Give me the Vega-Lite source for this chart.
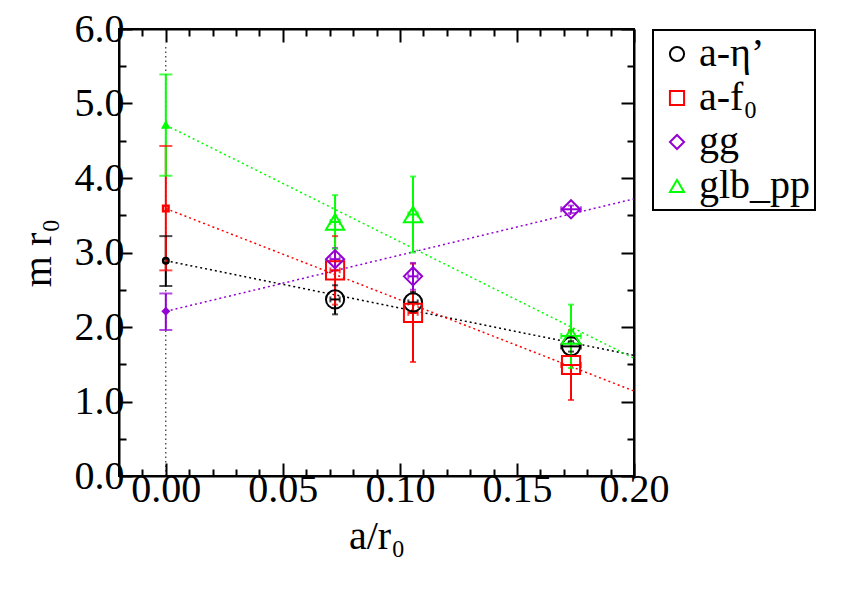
{
  "$schema": "https://vega.github.io/schema/vega-lite/v6.json",
  "width": 515,
  "height": 447,
  "autosize": {"type": "none"},
  "padding": {"left": 119, "top": 29, "right": 208, "bottom": 119},
  "background": "white",
  "config": {
    "font": "Liberation Serif",
    "view": {"stroke": "black", "strokeWidth": 2},
    "axis": {"grid": false, "domainColor": "black", "domainWidth": 2, "tickColor": "black", "tickWidth": 2, "labelColor": "black", "titleColor": "black", "labelFont": "Liberation Serif", "titleFont": "Liberation Serif", "titleFontWeight": "normal"},
    "legend": {"labelFont": "Liberation Serif", "strokeWidth": 2}
  },
  "datasets": {
    "pts": [
      {"s": "a-η’", "x": 0, "y": 2.89, "ylo": 2.55, "yhi": 3.22},
      {"s": "a-η’", "x": 0.0723, "y": 2.37, "ylo": 2.17, "yhi": 2.56, "xlo": 0.0703, "xhi": 0.0743},
      {"s": "a-η’", "x": 0.1056, "y": 2.33, "ylo": 2.19, "yhi": 2.47, "xlo": 0.1036, "xhi": 0.1076},
      {"s": "a-η’", "x": 0.1731, "y": 1.74, "ylo": 1.67, "yhi": 1.81, "xlo": 0.1689, "xhi": 0.1773},
      {"s": "a-f₀", "x": 0, "y": 3.59, "ylo": 2.76, "yhi": 4.43},
      {"s": "a-f₀", "x": 0.0723, "y": 2.76, "ylo": 2.30, "yhi": 3.22, "xlo": 0.0703, "xhi": 0.0743},
      {"s": "a-f₀", "x": 0.1056, "y": 2.19, "ylo": 1.53, "yhi": 2.85, "xlo": 0.1036, "xhi": 0.1076},
      {"s": "a-f₀", "x": 0.1731, "y": 1.49, "ylo": 1.02, "yhi": 1.96, "xlo": 0.1689, "xhi": 0.1773},
      {"s": "gg", "x": 0, "y": 2.21, "ylo": 1.96, "yhi": 2.45},
      {"s": "gg", "x": 0.0723, "y": 2.91, "ylo": 2.76, "yhi": 3.06, "xlo": 0.0703, "xhi": 0.0743},
      {"s": "gg", "x": 0.1056, "y": 2.68, "ylo": 2.50, "yhi": 2.86, "xlo": 0.1036, "xhi": 0.1076},
      {"s": "gg", "x": 0.1731, "y": 3.58, "ylo": 3.53, "yhi": 3.63, "xlo": 0.1689, "xhi": 0.1773},
      {"s": "glb_pp", "x": 0, "y": 4.71, "ylo": 4.03, "yhi": 5.39},
      {"s": "glb_pp", "x": 0.0723, "y": 3.41, "ylo": 3.05, "yhi": 3.77, "xlo": 0.0703, "xhi": 0.0743},
      {"s": "glb_pp", "x": 0.1056, "y": 3.51, "ylo": 3.00, "yhi": 4.02, "xlo": 0.1036, "xhi": 0.1076},
      {"s": "glb_pp", "x": 0.1731, "y": 1.88, "ylo": 1.45, "yhi": 2.30, "xlo": 0.1689, "xhi": 0.1773}
    ],
    "fits": [
      {"s": "a-η’", "x": 0, "y": 2.89},
      {"s": "a-η’", "x": 0.2, "y": 1.62},
      {"s": "a-f₀", "x": 0, "y": 3.59},
      {"s": "a-f₀", "x": 0.2, "y": 1.14},
      {"s": "gg", "x": 0, "y": 2.21},
      {"s": "gg", "x": 0.2, "y": 3.72},
      {"s": "glb_pp", "x": 0, "y": 4.71},
      {"s": "glb_pp", "x": 0.2, "y": 1.58}
    ],
    "vline": [
      {"x": 0, "y": 0, "y2": 5.8}
    ]
  },
  "resolve": {
    "axis": {"x": "independent", "y": "independent"},
    "legend": {"color": "independent", "shape": "independent"}
  },
  "layer": [
    {
      "data": {"name": "fits"},
      "mark": {"type": "line", "strokeDash": [2, 3], "strokeWidth": 1.5},
      "encoding": {
        "x": {"field": "x", "type": "quantitative",
          "scale": {"domain": [-0.02, 0.2], "nice": false, "zero": false},
          "axis": {
            "orient": "bottom",
            "values": [-0.01, 0, 0.01, 0.02, 0.03, 0.04, 0.05, 0.06, 0.07, 0.08, 0.09, 0.1, 0.11, 0.12, 0.13, 0.14, 0.15, 0.16, 0.17, 0.18, 0.19, 0.2],
            "labelExpr": "abs(datum.value*20 - round(datum.value*20)) < 0.001 ? format(datum.value, '.2f') : ''",
            "tickSize": {"condition": {"test": "abs(datum.value*20 - round(datum.value*20)) < 0.001", "value": -13}, "value": -7},
            "labelFontSize": 40, "labelPadding": 6, "labelOverlap": false, "labelFlush": false,
            "title": "a/r₀", "titleFontSize": 40, "titlePadding": 1
          }
        },
        "y": {"field": "y", "type": "quantitative",
          "scale": {"domain": [0, 6], "nice": false, "zero": false},
          "axis": {
            "orient": "left",
            "values": [0, 0.5, 1, 1.5, 2, 2.5, 3, 3.5, 4, 4.5, 5, 5.5, 6],
            "labelExpr": "abs(datum.value - round(datum.value)) < 0.001 ? format(datum.value, '.1f') : ''",
            "tickSize": {"condition": {"test": "abs(datum.value - round(datum.value)) < 0.001", "value": -13}, "value": -7},
            "labelFontSize": 40, "labelPadding": 8, "labelOverlap": false, "labelFlush": false,
            "title": "m r₀", "titleFontSize": 40, "titlePadding": 16
          }
        },
        "color": {"field": "s", "type": "nominal",
          "scale": {"domain": ["a-η’", "a-f₀", "gg", "glb_pp"], "range": ["#000000", "#ff0000", "#9400d3", "#00ff00"]},
          "legend": null},
        "detail": {"field": "s"}
      }
    },
    {
      "data": {"name": "vline"},
      "mark": {"type": "rule", "color": "black", "strokeDash": [1.5, 3], "strokeWidth": 1},
      "encoding": {
        "x": {"field": "x", "type": "quantitative",
          "scale": {"domain": [-0.02, 0.2], "nice": false, "zero": false},
          "axis": {
            "orient": "top",
            "values": [-0.01, 0, 0.01, 0.02, 0.03, 0.04, 0.05, 0.06, 0.07, 0.08, 0.09, 0.1, 0.11, 0.12, 0.13, 0.14, 0.15, 0.16, 0.17, 0.18, 0.19, 0.2],
            "labels": false,
            "tickSize": {"condition": {"test": "abs(datum.value*20 - round(datum.value*20)) < 0.001", "value": -13}, "value": -7},
            "title": null
          }
        },
        "y": {"field": "y", "type": "quantitative",
          "scale": {"domain": [0, 6], "nice": false, "zero": false},
          "axis": {
            "orient": "right",
            "values": [0, 0.5, 1, 1.5, 2, 2.5, 3, 3.5, 4, 4.5, 5, 5.5, 6],
            "labels": false,
            "tickSize": {"condition": {"test": "abs(datum.value - round(datum.value)) < 0.001", "value": -13}, "value": -7},
            "title": null
          }
        },
        "y2": {"field": "y2"}
      }
    },
    {
      "data": {"name": "pts"},
      "mark": {"type": "rule", "strokeWidth": 2},
      "encoding": {
        "x": {"field": "x", "type": "quantitative", "scale": {"domain": [-0.02, 0.2], "nice": false, "zero": false}, "axis": null},
        "y": {"field": "ylo", "type": "quantitative", "scale": {"domain": [0, 6], "nice": false, "zero": false}, "axis": null},
        "y2": {"field": "yhi"},
        "color": {"field": "s", "type": "nominal", "legend": null}
      }
    },
    {
      "data": {"name": "pts"},
      "transform": [
        {"fold": ["ylo", "yhi"], "as": ["k", "yc"]},
        {"filter": "datum.x == 0"}
      ],
      "mark": {"type": "tick", "orient": "horizontal", "size": 13, "thickness": 2},
      "encoding": {
        "x": {"field": "x", "type": "quantitative", "scale": {"domain": [-0.02, 0.2], "nice": false, "zero": false}, "axis": null},
        "y": {"field": "yc", "type": "quantitative", "scale": {"domain": [0, 6], "nice": false, "zero": false}, "axis": null},
        "color": {"field": "s", "type": "nominal", "legend": null}
      }
    },
    {
      "data": {"name": "pts"},
      "transform": [
        {"fold": ["ylo", "yhi"], "as": ["k", "yc"]},
        {"filter": "datum.x > 0"}
      ],
      "mark": {"type": "tick", "orient": "horizontal", "size": 6, "thickness": 2},
      "encoding": {
        "x": {"field": "x", "type": "quantitative", "scale": {"domain": [-0.02, 0.2], "nice": false, "zero": false}, "axis": null},
        "y": {"field": "yc", "type": "quantitative", "scale": {"domain": [0, 6], "nice": false, "zero": false}, "axis": null},
        "color": {"field": "s", "type": "nominal", "legend": null}
      }
    },
    {
      "data": {"name": "pts"},
      "transform": [{"filter": "datum.x > 0"}],
      "mark": {"type": "rule", "strokeWidth": 2},
      "encoding": {
        "x": {"field": "xlo", "type": "quantitative", "scale": {"domain": [-0.02, 0.2], "nice": false, "zero": false}, "axis": null},
        "x2": {"field": "xhi"},
        "y": {"field": "y", "type": "quantitative", "scale": {"domain": [0, 6], "nice": false, "zero": false}, "axis": null},
        "color": {"field": "s", "type": "nominal", "legend": null}
      }
    },
    {
      "data": {"name": "pts"},
      "transform": [
        {"filter": "datum.x > 0"},
        {"fold": ["xlo", "xhi"], "as": ["k", "xc"]}
      ],
      "mark": {"type": "tick", "orient": "vertical", "size": 6, "thickness": 2},
      "encoding": {
        "x": {"field": "xc", "type": "quantitative", "scale": {"domain": [-0.02, 0.2], "nice": false, "zero": false}, "axis": null},
        "y": {"field": "y", "type": "quantitative", "scale": {"domain": [0, 6], "nice": false, "zero": false}, "axis": null},
        "color": {"field": "s", "type": "nominal", "legend": null}
      }
    },
    {
      "data": {"name": "pts"},
      "transform": [{"filter": "datum.x == 0"}],
      "mark": {"type": "point", "filled": false, "size": 30, "strokeWidth": 2.5, "opacity": 1},
      "encoding": {
        "x": {"field": "x", "type": "quantitative", "scale": {"domain": [-0.02, 0.2], "nice": false, "zero": false}, "axis": null},
        "y": {"field": "y", "type": "quantitative", "scale": {"domain": [0, 6], "nice": false, "zero": false}, "axis": null},
        "color": {"field": "s", "type": "nominal", "legend": null},
        "shape": {"field": "s", "type": "nominal",
          "scale": {"domain": ["a-η’", "a-f₀", "gg", "glb_pp"], "range": ["circle", "square", "diamond", "triangle-up"]},
          "legend": null}
      }
    },
    {
      "data": {"name": "pts"},
      "transform": [{"filter": "datum.x > 0"}],
      "mark": {"type": "point", "filled": false, "size": 330, "strokeWidth": 2, "opacity": 1},
      "encoding": {
        "x": {"field": "x", "type": "quantitative", "scale": {"domain": [-0.02, 0.2], "nice": false, "zero": false}, "axis": null},
        "y": {"field": "y", "type": "quantitative", "scale": {"domain": [0, 6], "nice": false, "zero": false}, "axis": null},
        "color": {"field": "s", "type": "nominal",
          "legend": {"orient": "none", "legendX": 534, "legendY": 1, "title": null, "labelFont": "Liberation Serif", "labelFontSize": 40, "labelColor": "black", "symbolSize": 200, "symbolStrokeWidth": 2, "symbolOffset": 0, "strokeColor": "black", "padding": 4, "rowPadding": 4, "labelOffset": 2}},
        "shape": {"field": "s", "type": "nominal",
          "legend": {"orient": "none", "legendX": 534, "legendY": 1, "title": null, "labelFont": "Liberation Serif", "labelFontSize": 40, "labelColor": "black", "symbolSize": 200, "symbolStrokeWidth": 2, "symbolOffset": 0, "strokeColor": "black", "padding": 4, "rowPadding": 4, "labelOffset": 2}}
      }
    }
  ]
}
